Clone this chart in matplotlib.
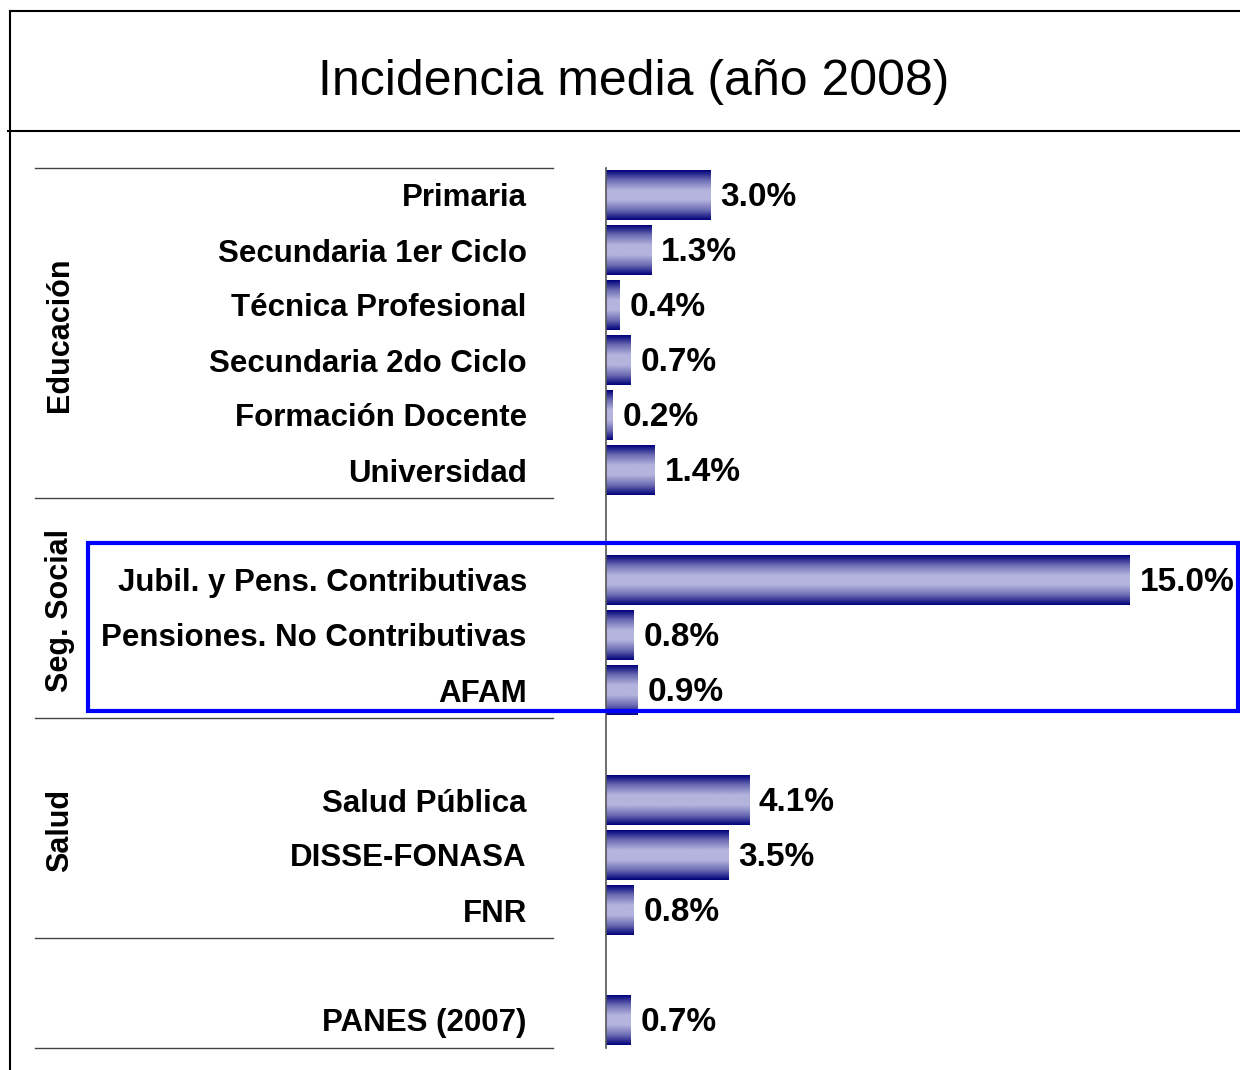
import numpy as np
import matplotlib
matplotlib.use('Agg')
from matplotlib import pyplot as plt
from matplotlib.colors import LinearSegmentedColormap
from matplotlib.lines import Line2D
from matplotlib.patches import Rectangle
import matplotlib.transforms as mtransforms

plt.rcParams['font.family'] = ['Liberation Sans', 'DejaVu Sans']

# data
groups = ['Educación', 'Seg. Social', 'Salud', '']
group_items = [
    ['Primaria', 'Secundaria 1er Ciclo', 'Técnica Profesional',
     'Secundaria 2do Ciclo', 'Formación Docente', 'Universidad'],
    ['Jubil. y Pens. Contributivas', 'Pensiones. No Contributivas', 'AFAM'],
    ['Salud Pública', 'DISSE-FONASA', 'FNR'],
    ['PANES (2007)'],
]
group_values = [
    [3.0, 1.3, 0.4, 0.7, 0.2, 1.4],
    [15.0, 0.8, 0.9],
    [4.1, 3.5, 0.8],
    [0.7],
]

# row positions: one empty row between groups
labels, values, rows, bounds = [], [], [], [-0.5]
r = 0
for names, vals in zip(group_items, group_values):
    for n, v in zip(names, vals):
        labels.append(n)
        values.append(v)
        rows.append(r)
        r += 1
    bounds.append(r - 0.5)
    r += 1
nrows = rows[-1] + 1

W, H = 1240, 1070
fig = plt.figure(figsize=(W / 100, H / 100), dpi=100)

# bar axes: zero at px 606, 15% at px 1130
x0 = 606
ppu = (1130 - 606) / 15.0
ytop, ybot = 167.5, 1047.5
ax = fig.add_axes([x0 / W, 1 - ybot / H, (W - x0) / W, (ybot - ytop) / H])

cmap = LinearSegmentedColormap.from_list(
    'bar', ['#00007a', '#6c6cb4', '#b4b4de', '#b4b4de', '#6c6cb4', '#00007a'])
grad = np.linspace(0, 1, 256).reshape(-1, 1)
bh = 0.9
for y, v in zip(rows, values):
    ax.imshow(grad, cmap=cmap, aspect='auto', interpolation='bilinear',
              extent=(0, v, y + bh / 2, y - bh / 2))
    ax.annotate(f'{v:.1f}%', (v, y), xytext=(7, -2), textcoords='offset points',
                ha='left', va='center', fontsize=24, fontweight='bold',
                annotation_clip=False)

ax.set_xlim(0, (W - x0) / ppu)
ax.set_ylim(nrows - 0.5, -0.5)
for s in ['top', 'right', 'bottom']:
    ax.spines[s].set_visible(False)
ax.spines['left'].set_color('#555555')
ax.spines['left'].set_linewidth(1.2)
ax.set_xticks([])
ax.set_yticks(rows)
ax.set_yticklabels(labels, fontsize=22.5, fontweight='bold')
ax.tick_params(axis='y', length=0, pad=57)

# separators and group labels
tr = mtransforms.blended_transform_factory(fig.transFigure, ax.transData)
for b in bounds:
    ax.plot([35 / W, 553 / W], [b, b], transform=tr, color='#444444',
            lw=1.0, clip_on=False)
for g, b0, b1 in zip(groups, bounds[:-1], bounds[1:]):
    if g:
        ax.text(60 / W, (b0 + b1) / 2 + 0.05, g,
                transform=tr, rotation=90, ha='center', va='center',
                fontsize=22, fontweight='bold')

# highlight box around Seg. Social
fig.add_artist(Rectangle((88 / W, 1 - 711 / H), (1238 - 88) / W, (711 - 543) / H,
                         transform=fig.transFigure, fill=False,
                         edgecolor='#0000ff', lw=3))

# outer frame
fig.add_artist(Line2D([10 / W, 10 / W], [0, 1 - 11 / H], color='black', lw=1.5))
fig.add_artist(Line2D([10 / W, 1], [1 - 11 / H, 1 - 11 / H], color='black', lw=1.5))
fig.add_artist(Line2D([8 / W, 1], [1 - 131 / H, 1 - 131 / H], color='black', lw=1.5))

fig.text(634 / W, 1 - 82 / H, 'Incidencia media (año 2008)',
         ha='center', va='center', fontsize=36)

plt.savefig('out.png', dpi=100)
